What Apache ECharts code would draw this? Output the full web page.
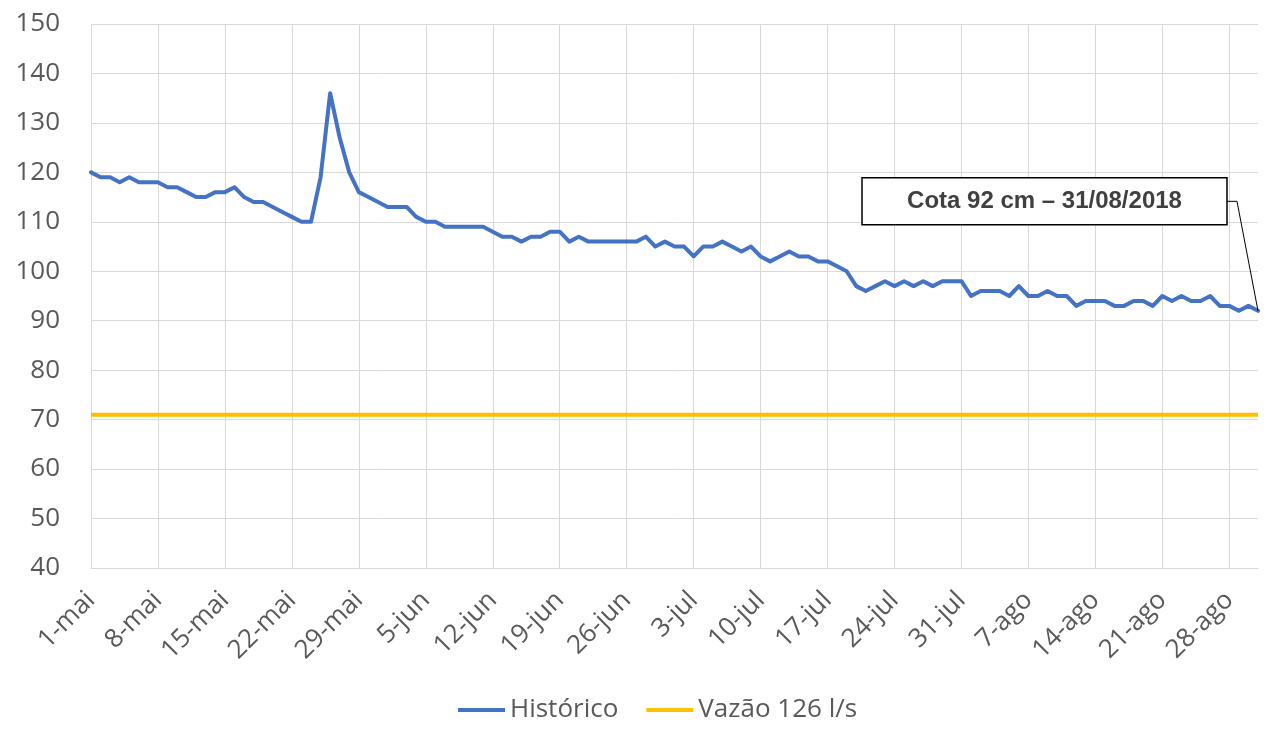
<!DOCTYPE html>
<html>
<head>
<meta charset="utf-8">
<script src="https://cdn.jsdelivr.net/npm/echarts@6/dist/echarts.min.js"></script>
<style>
  html, body { margin: 0; padding: 0; background: #ffffff; }
  #chart { width: 1279px; height: 740px; }
</style>
</head>
<body>
<div id="chart"></div>
<script>
// Month names and lengths used to build the daily category labels (1-mai .. 31-ago)
const months = [['mai', 31], ['jun', 30], ['jul', 31], ['ago', 31]];
const categories = [];
months.forEach(function (m) { for (let d = 1; d <= m[1]; d++) categories.push(d + '-' + m[0]); });

// Histórico (cm), one value per day
const historico = [
  120,119,119,118,119,118,118,118,117,117,
  116,115,115,116,116,117,115,114,114,113,
  112,111,110,110,119,136,127,120,116,115,
  114,113,113,113,111,110,110,109,109,109,
  109,109,108,107,107,106,107,107,108,108,
  106,107,106,106,106,106,106,106,107,105,
  106,105,105,103,105,105,106,105,104,105,
  103,102,103,104,103,103,102,102,101,100,
  97,96,97,98,97,98,97,98,97,98,
  98,98,95,96,96,96,95,97,95,95,
  96,95,95,93,94,94,94,93,93,94,
  94,93,95,94,95,94,94,95,93,93,
  92,93,92
];

// Vazão 126 l/s reference level
const vazao = [
  71,71,71,71,71,71,71,71,71,71,
  71,71,71,71,71,71,71,71,71,71,
  71,71,71,71,71,71,71,71,71,71,
  71,71,71,71,71,71,71,71,71,71,
  71,71,71,71,71,71,71,71,71,71,
  71,71,71,71,71,71,71,71,71,71,
  71,71,71,71,71,71,71,71,71,71,
  71,71,71,71,71,71,71,71,71,71,
  71,71,71,71,71,71,71,71,71,71,
  71,71,71,71,71,71,71,71,71,71,
  71,71,71,71,71,71,71,71,71,71,
  71,71,71,71,71,71,71,71,71,71,
  71,71,71
];

const seriesNames = ['Histórico', 'Vazão 126 l/s'];
const annotationText = 'Cota 92 cm – 31/08/2018';
const yTicks = { min: 40, max: 150, interval: 10 };

const FONT = '"Open Sans", "Noto Sans", sans-serif';
const TXT = '#595959';
const GRID = '#d9d9d9';

const chart = echarts.init(document.getElementById('chart'), null, { renderer: 'canvas' });

chart.setOption({
  animation: false,
  backgroundColor: '#ffffff',
  grid: { left: 91, right: 21, top: 24, bottom: 172, containLabel: false },
  legend: {
    left: 453,
    top: 692,
    itemWidth: 47,
    itemHeight: 4,
    itemGap: 28,
    icon: 'rect',
    textStyle: { fontFamily: FONT, fontSize: 26, color: TXT },
    data: seriesNames
  },
  xAxis: {
    type: 'category',
    boundaryGap: false,
    data: categories,
    axisTick: { show: false },
    axisLine: { show: true, lineStyle: { color: GRID, width: 1 } },
    axisLabel: {
      interval: 6,
      rotate: 45,
      margin: 28,
      padding: [22, 0, 0, 0],
      fontFamily: FONT,
      fontSize: 26,
      color: TXT
    },
    splitLine: {
      show: true,
      interval: function (idx) { return idx % 7 === 0; },
      lineStyle: { color: GRID, width: 1 }
    }
  },
  yAxis: {
    type: 'value',
    min: yTicks.min,
    max: yTicks.max,
    interval: yTicks.interval,
    axisLine: { show: false },
    axisTick: { show: false },
    axisLabel: { fontFamily: FONT, fontSize: 26, color: TXT, margin: 31 },
    splitLine: { lineStyle: { color: GRID, width: 1 } }
  },
  series: [
    {
      name: seriesNames[0],
      type: 'line',
      data: historico,
      symbol: 'none',
      lineStyle: { color: '#4472C4', width: 4, join: 'round', cap: 'round' },
      itemStyle: { color: '#4472C4' },
      z: 3
    },
    {
      name: seriesNames[1],
      type: 'line',
      data: vazao,
      symbol: 'none',
      lineStyle: { color: '#FFC000', width: 4 },
      itemStyle: { color: '#FFC000' },
      z: 2
    }
  ]
});

// Callout box anchored to the last Histórico point via the chart's own scale
const lastIdx = historico.length - 1;
const p = chart.convertToPixel({ seriesIndex: 0 }, [lastIdx, historico[lastIdx]]);
const boxW = 365, boxH = 47;
const boxRight = p[0] - 31;
const boxTop = p[1] - 133;
const boxLeft = boxRight - boxW;
const boxMidY = boxTop + boxH / 2;

chart.setOption({
  graphic: [
    {
      type: 'polyline',
      z: 10,
      shape: { points: [[boxRight, boxMidY], [boxRight + 10, boxMidY], [p[0], p[1]]] },
      style: { stroke: '#000000', lineWidth: 1, fill: null }
    },
    {
      type: 'rect',
      z: 11,
      shape: { x: boxLeft, y: boxTop, width: boxW, height: boxH },
      style: { fill: '#ffffff', stroke: '#000000', lineWidth: 1.5 }
    },
    {
      type: 'text',
      z: 12,
      x: boxLeft + boxW / 2,
      y: boxMidY,
      style: {
        text: annotationText,
        fill: '#404040',
        font: 'bold 24px "Liberation Sans", Arial, sans-serif',
        align: 'center',
        verticalAlign: 'middle'
      }
    }
  ]
});
</script>
</body>
</html>
